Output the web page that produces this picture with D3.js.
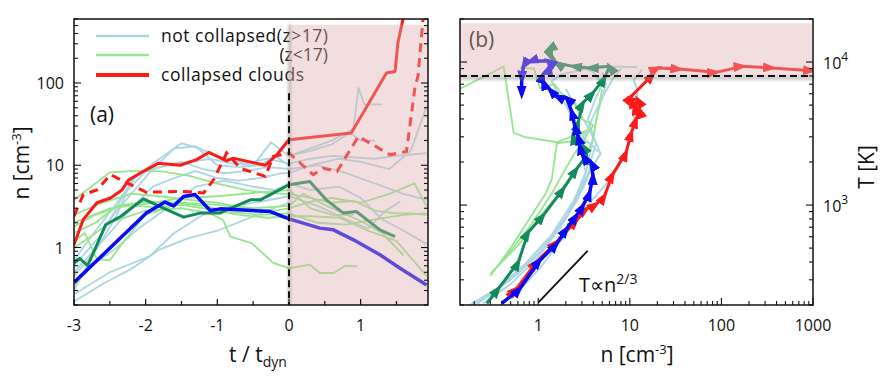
<!DOCTYPE html>
<html><head><meta charset="utf-8">
<script src="https://cdn.jsdelivr.net/npm/d3@7"></script>
<style>body{margin:0;background:#fff}svg{display:block}text{font-family:"Open Sans","Liberation Sans",Arial,sans-serif;fill:#111}</style>
</head><body><svg id="c" width="884" height="376"></svg>
<script>
// ---------- DATA: panel (a) n vs t/t_dyn ----------
const redSolidT = [-3,-2.87,-2.68,-2.49,-2.33,-2.24,-2.08,-1.82,-1.52,-1.29,-1.12,-0.87,-0.78,-0.33,-0.17,0,0.87,1.36,1.48,1.52,1.6];
const redSolidN = [1.08,2.2,3.5,4.0,5.0,6.6,8.0,10.6,10,11.7,14.3,11.3,12.2,10,13.4,20.4,24.6,132,138,306,650];
const redDashT = [-3,-2.87,-2.68,-2.49,-2.26,-1.99,-1.47,-1.19,-1.05,-0.87,-0.68,-0.33,-0.22,0,0.34,0.48,0.67,0.97,1.41,1.64,1.76,1.8,1.87];
const redDashN = [2.4,4.4,5.0,7.7,6.1,4.7,4.8,4.6,6.7,14.1,9.2,7.3,12.8,14.1,7.7,9.2,8.4,22.4,13.4,14.7,91,120,590];
const blueT = [-3,-1.99,-1.73,-1.61,-1.47,-1.31,-1.10,-0.96,-0.26,0,0.43,0.62,0.9,1.27,1.55,1.92];
const blueN = [0.375,2.62,3.57,3.2,4.17,4.4,2.82,2.95,2.74,2.23,1.72,1.64,1.24,0.815,0.56,0.35];
const dgreenT = [-3,-2.92,-2.81,-2.68,-2.56,-2.35,-2.03,-1.8,-1.47,-1.24,-0.96,-0.82,-0.54,-0.4,0,0.29,0.52,0.76,0.94,1.27,1.48];
const dgreenN = [0.65,0.74,0.6,1.08,1.89,2.38,3.9,3.15,2.34,2.62,2.62,3.0,3.8,3.8,5.8,6.35,3.8,2.62,2.74,1.64,1.36];
// light blue (not collapsed, z>17)
const lbA_T = [
 [-3,-2.6,-2.2,-1.8,-1.4,-1.0,-0.6,-0.3,0],
 [-3,-2.5,-1.95,-1.6,-1.2,-0.8,-0.4,0,0.4,0.8,1.1,1.35,1.55],
 [-3,-2.7,-2.4,-2.2,-1.9,-1.5,-1.25,-1.0,-0.6,-0.3,0,0.3,0.6,0.9,1.2,1.5,1.92],
 [-3,-2.6,-2.3,-2.0,-1.7,-1.4,-1.1,-0.8,-0.5,-0.25,0,0.3,0.6,0.9,0.97,1.05,1.3],
 [-3,-2.7,-2.4,-2.1,-1.8,-1.5,-1.2,-0.9,-0.6,-0.3,0,0.4,0.8,1.2,1.6,1.92],
 [-3,-2.7,-2.4,-2.1,-1.7,-1.3,-0.9,-0.5,-0.2,0,0.3,0.7,1.0,1.3,1.6,1.92],
 [-3,-2.6,-2.2,-1.9,-1.6,-1.3,-1.0,-0.7,-0.4,-0.1,0,0.3,0.7,1.0,1.4,1.7,1.92],
 [0,0.3,0.6,0.85,1.0,1.2],
 [-3,-2.75,-2.5,-2.2,-1.9,-1.6,-1.3,-1.0,-0.7,-0.4,-0.2,0]
];
const lbA_N = [
 [0.22,0.36,0.55,0.95,1.3,1.6,2.2,2.8,3.5],
 [0.27,0.5,0.78,1.5,2.5,3.2,3.6,4.2,3.2,2.2,1.7,2.8,3.6],
 [0.45,0.9,2.5,6.5,10.5,18.5,16,13,10.5,12,10.5,12,13,12.5,12,13,14],
 [0.6,1.5,4.5,8.5,10,11,12,10.5,10,19,13,16,20,28,88,55,55],
 [0.7,1.6,3.5,8,9.5,11,9,8,8.5,9.5,9,10,8,6,4.5,3.8],
 [0.35,0.65,1.0,1.7,3.0,5.5,6.5,5.5,5,6,5,5.5,4,2.2,1.6,1.1],
 [0.5,1.2,3,5.5,7,8.5,7,6.5,7,8,8,10,12,11,9,15,52],
 [13,15,18,25,20,20],
 [0.3,0.8,2.2,4.5,9,16,17,10,9.5,10,13,10]
];
// light green (not collapsed, z<17)
const lgA_T = [
 [-3,-2.5,-2.2,-1.8,-1.4,-1.0,-0.6,-0.3,0,0.3,0.6,0.9,1.2,1.5,1.7,1.92],
 [-3,-2.8,-2.5,-2.0,-1.5,-1.1,-0.92,-0.82,-0.52,-0.22,0,0.29,0.43,0.62,0.79,0.95],
 [-3,-2.85,-2.68,-2.5,-2.3,-2.0,-1.5,-1.0,-0.5,0,0.2,0.5,0.8,1.0,1.3,1.6],
 [-3,-2.6,-2.2,-1.8,-1.4,-1,-0.6,-0.2,0,0.3,0.6,1.0,1.4,1.75,1.92],
 [-3,-2.7,-2.4,-2.0,-1.6,-1.2,-0.8,-0.4,0,0.4,0.8,1.2,1.6,1.92],
 [-3,-2.7,-2.3,-1.9,-1.5,-1.1,-0.7,-0.3,0,0.3,0.7,1.1,1.5,1.92],
 [-3,-2.5,-2,-1.5,-1.0,-0.5,0,0.3,0.6,0.9]
];
const lgA_N = [
 [3.8,8.2,8.5,8.5,7.5,6,5,4.6,4.5,4.0,3.5,3.7,2.8,2.6,2.6,2.5],
 [1.0,1.3,2.0,2.8,3.0,2.6,2.17,1.36,1.13,0.65,0.56,0.62,0.49,0.49,0.6,0.59],
 [1.2,1.5,0.72,0.7,1.2,2.5,3.5,3.3,3.0,3.2,4.5,3.3,2.5,2.1,1.5,0.8],
 [2.5,3.5,4.5,4.2,3.8,3.5,3.0,2.8,3.0,3.6,4.0,3.5,4.5,6.0,3.2],
 [1.5,2.0,3.2,3.6,3.5,3.2,2.7,2.5,2.6,2.0,1.9,2.2,2.5,2.6],
 [1.8,2.5,3.3,3.1,3.3,2.9,2.5,2.3,2.4,2.4,2.3,1.6,1.2,0.45],
 [2.0,3.0,3.4,4.0,4.2,4.6,5.0,3.0,2.5,2.5]
];
const xTicksA = [-3,-2,-1,0,1];
const yTicksA = [1,10,100];

// ---------- DATA: panel (b) T vs n ----------
const redBN = [0.45,0.58,0.96,1.58,2.6,3.36,4.3,5.3,6.5,9.1,10.4,11.7,12.7,11.2,12.2,9.9,10.4,17.8,20.2,34.7,87,170,357,977];
const redBT = [234,260,400,550,777,938,1016,1160,1643,2327,3207,3966,4656,4909,5467,5467,5767,8170,9085,8930,8470,9330,9085,8690];
const blueBN = [0.4,0.63,1.04,1.58,2.04,2.61,3.08,3.65,3.96,3.8,3.08,2.84,2.72,2.51,2.31,2.04,1.58,1.34,1.13,1.13,1.34,1.28,0.81,0.69,0.66,0.66];
const blueBT = [205,260,410,535,681,843,989,1225,1600,1983,2204,2588,3037,3563,4531,5604,5767,6415,7330,8166,9330,10200,10090,9330,7530,5920];
const dgreenBN = [0.275,0.367,0.607,0.778,1.13,1.87,2.61,3.36,3.08,2.61,2.4,2.72,3.08,3.96,5.3,6.0,3.65,2.4,1.58,1.28,1.4];
const dgreenBT = [205,260,399,646,843,1292,1780,2204,2588,2878,3037,3756,5188,6080,7745,9330,9085,9330,9840,12200,10660];
const lbB_N = [
 [0.2,0.5,1.0,2.0,3.0,3.5,4.0,4.5,5.5,5.0],
 [0.22,0.6,1.2,2.2,3.2,4.8,4.0,3.5,4.2,5.0,4.0,3.0],
 [0.5,1.0,2.0,3.0,5.0,7.0,9.0,10.5,11,12,12,11,13,13.5],
 [0.18,0.35,0.7,1.4,2.5,3.3,3.0,2.8,3.5,4.0,5.0,6.5,8],
 [0.25,0.5,1.0,1.8,2.5,4.8,3.2,2.5,2.0,1.6,1.4,1.8,3,5,8,12],
 [0.3,0.7,1.5,2.6,3.4,3.8,4.3,3.5,2.5,2.0]
];
const lbB_T = [
 [200,300,450,800,1300,2000,3000,4500,7000,8500],
 [205,330,520,900,1500,2300,3000,4000,5500,7000,8500,9200],
 [220,350,620,900,1300,1700,2300,3000,4000,5000,6500,7500,8500,8900],
 [200,260,380,620,1100,1700,2200,2700,3400,4200,5600,7600,9000],
 [205,280,430,720,1100,2300,2900,3800,5000,6200,7400,8200,8800,9300,9300,9200],
 [230,380,640,1050,1500,2100,2700,3500,5000,6500]
];
const lgB_N = [
 [0.14,0.42,0.54,0.7,1.6,3.3,2.4,1.6,1.4,1.2,0.8,0.5,0.3],
 [0.63,0.9,1.04,1.5,1.8,2.5,3.0,4.0,3.5,3.0,2.5,2.0,1.4,0.8,0.4],
 [0.3,0.6,1.0,1.6,2.3,3.0,3.6,4.0,4.5,5.0]
];
const lgB_T = [
 [6500,9300,3200,3000,2750,3300,2800,2700,1500,1200,800,500,320],
 [9100,9000,6600,7000,6000,5200,4000,3600,3200,2700,2300,1800,1200,700,400],
 [330,520,800,1150,1600,2000,2400,3000,4600,6500]
];
const refLineN = [1, 3.47];
const refLineT = [208, 479];
const xTicksB = [1,10,100,1000];
const yTicksB = [1000,10000];
const legendLabels = ["not collapsed(z>17)","(z<17)","collapsed clouds"];

// ---------- COLORS ----------
const C = {red:"#ff1a1a", blue:"#0a0af5", dgreen:"#138a5c", lblue:"#acd6e4", lgreen:"#96e68e",
           shade:"rgba(222,172,172,0.40)"};

const svg = d3.select("#c");
const defs = svg.append("defs");
defs.append("filter").attr("id","blur").attr("x","-50%").attr("y","-50%").attr("width","200%").attr("height","200%")
  .append("feGaussianBlur").attr("stdDeviation",1.5);

function zip(a,b){return a.map((v,i)=>[v,b[i]]);}
function logMinor(lo,hi){const out=[];for(let e=Math.floor(Math.log10(lo));e<=Math.ceil(Math.log10(hi));e++){for(let m=1;m<10;m++){const v=m*Math.pow(10,e);if(v>=lo&&v<=hi)out.push({v,major:m===1});}}return out;}

// ============ PANEL A ============
const A = {l:74,r:428,t:19,b:305};
const xA = d3.scaleLinear().domain([-3,1.94]).range([A.l,A.r]);
const yA = d3.scaleLog().domain([0.2,600]).range([A.b,A.t]);
const gA = svg.append("g");
defs.append("clipPath").attr("id","clipA").append("rect").attr("x",A.l).attr("y",A.t).attr("width",A.r-A.l).attr("height",A.b-A.t);
const linesA = gA.append("g").attr("clip-path","url(#clipA)");
const lineA = d3.line().x(d=>xA(d[0])).y(d=>yA(d[1]));
lbA_T.forEach((t,i)=>linesA.append("path").attr("d",lineA(zip(t,lbA_N[i]))).attr("fill","none").attr("stroke",C.lblue).attr("stroke-width",1.8));
lgA_T.forEach((t,i)=>linesA.append("path").attr("d",lineA(zip(t,lgA_N[i]))).attr("fill","none").attr("stroke",C.lgreen).attr("stroke-width",1.8));
linesA.append("path").attr("d",lineA(zip(dgreenT,dgreenN))).attr("fill","none").attr("stroke",C.dgreen).attr("stroke-width",3).attr("stroke-linejoin","round");
linesA.append("path").attr("d",lineA(zip(blueT,blueN))).attr("fill","none").attr("stroke",C.blue).attr("stroke-width",3.5).attr("stroke-linejoin","round");
linesA.append("path").attr("d",lineA(zip(redDashT,redDashN))).attr("fill","none").attr("stroke",C.red).attr("stroke-width",3).attr("stroke-dasharray","9,6");
linesA.append("path").attr("d",lineA(zip(redSolidT,redSolidN))).attr("fill","none").attr("stroke",C.red).attr("stroke-width",3).attr("stroke-linejoin","round");

// legend
const leg = gA.append("g");
const legColors=[C.lblue,C.lgreen,C.red], legW=[2.5,2.5,4], legY=[36,55,75];
legColors.forEach((c,i)=>leg.append("line").attr("x1",96).attr("x2",149).attr("y1",legY[i]).attr("y2",legY[i]).attr("stroke",c).attr("stroke-width",legW[i]));
leg.append("text").attr("x",161).attr("y",42).attr("font-size",17.5).attr("textLength",167).attr("lengthAdjust","spacing").text(legendLabels[0]);
leg.append("text").attr("x",328).attr("y",61).attr("font-size",17.5).attr("text-anchor","end").text(legendLabels[1]);
leg.append("text").attr("x",161).attr("y",81).attr("font-size",17.5).attr("textLength",143).attr("lengthAdjust","spacing").text(legendLabels[2]);
gA.append("text").attr("x",90).attr("y",122).attr("font-size",21).text("(a)");

// shade overlay
gA.append("rect").attr("x",xA(0)-1).attr("y",24.7).attr("width",3).attr("height",A.b-24.7).attr("fill","rgba(130,130,130,0.5)").attr("filter","url(#blur)");
gA.append("rect").attr("x",xA(0)).attr("y",24.7).attr("width",A.r-xA(0)).attr("height",A.b-24.7).attr("fill",C.shade);
// vertical dashed line at t=0
gA.append("line").attr("x1",xA(0)).attr("x2",xA(0)).attr("y1",yA(75)).attr("y2",A.b).attr("stroke","#111").attr("stroke-width",2).attr("stroke-dasharray","7,4");

// axes panel A
const axA = gA.append("g").attr("stroke","#111");
axA.append("rect").attr("x",A.l).attr("y",A.t).attr("width",A.r-A.l).attr("height",A.b-A.t).attr("fill","none").attr("stroke-width",1.5);
d3.range(-3,1.95,0.5).forEach(v=>{const maj=Number.isInteger(v);axA.append("line").attr("x1",xA(v)).attr("x2",xA(v)).attr("y1",A.b).attr("y2",A.b-(maj?6:4)).attr("stroke-width",1.2);});
logMinor(0.2,600).forEach(o=>{const y=yA(o.v),L=o.major?7:4;
  axA.append("line").attr("x1",A.l).attr("x2",A.l+L).attr("y1",y).attr("y2",y).attr("stroke-width",1.1);
  axA.append("line").attr("x1",A.r).attr("x2",A.r-L).attr("y1",y).attr("y2",y).attr("stroke-width",1.1);});
xTicksA.forEach(v=>gA.append("text").attr("x",xA(v)).attr("y",331).attr("font-size",16).attr("text-anchor","middle").text(v));
yTicksA.forEach(v=>gA.append("text").attr("x",64).attr("y",yA(v)+6).attr("font-size",16).attr("text-anchor","end").text(v));
// axis labels
const ylA = gA.append("text").attr("transform","translate(29,163) rotate(-90)").attr("text-anchor","middle").attr("font-size",21);
ylA.append("tspan").text("n [cm");ylA.append("tspan").attr("dy",-8).attr("font-size",13).text("-3");ylA.append("tspan").attr("dy",8).text("]");
const xlA = gA.append("text").attr("x",258).attr("y",362).attr("text-anchor","middle").attr("font-size",21);
xlA.append("tspan").text("t / t");xlA.append("tspan").attr("dy",5).attr("font-size",14).text("dyn");

// ============ PANEL B ============
const B = {l:460,r:813,t:19,b:305};
const xB = d3.scaleLog().domain([0.14,1000]).range([B.l,B.r]);
const yB = d3.scaleLog().domain([200,20000]).range([B.b,B.t]);
const gB = svg.append("g");
defs.append("clipPath").attr("id","clipB").append("rect").attr("x",B.l).attr("y",B.t).attr("width",B.r-B.l).attr("height",B.b-B.t);
const linesB = gB.append("g").attr("clip-path","url(#clipB)");
const lineB = d3.line().x(d=>xB(d[0])).y(d=>yB(d[1]));
function mk(id,color){defs.append("marker").attr("id",id).attr("viewBox","-7 -5 14 10").attr("refX",2).attr("refY",0)
  .attr("markerWidth",14).attr("markerHeight",10).attr("markerUnits","userSpaceOnUse").attr("orient","auto")
  .append("path").attr("d","M-7,-5L7,0L-7,5Z").attr("fill",color);}
mk("mRed",C.red);mk("mBlue",C.blue);mk("mGreen",C.dgreen);
lbB_N.forEach((n,i)=>linesB.append("path").attr("d",lineB(zip(n,lbB_T[i]))).attr("fill","none").attr("stroke",C.lblue).attr("stroke-width",1.8));
lgB_N.forEach((n,i)=>linesB.append("path").attr("d",lineB(zip(n,lgB_T[i]))).attr("fill","none").attr("stroke",C.lgreen).attr("stroke-width",1.8));
function traj(n,T,color,mid,w){linesB.append("path").attr("d",lineB(zip(n,T))).attr("fill","none").attr("stroke",color).attr("stroke-width",w)
  .attr("stroke-linejoin","round").attr("marker-mid",`url(#${mid})`).attr("marker-end",`url(#${mid})`);}
traj(dgreenBN,dgreenBT,C.dgreen,"mGreen",3);
traj(redBN,redBT,C.red,"mRed",3);
traj(blueBN,blueBT,C.blue,"mBlue",3.5);
// reference slope line
gB.append("path").attr("d",lineB(zip(refLineN,refLineT))).attr("stroke","#111").attr("stroke-width",1.8).attr("fill","none");
const rt = gB.append("text").attr("x",579).attr("y",292).attr("font-size",20);
rt.append("tspan").text("T\u221Dn");rt.append("tspan").attr("dy",-8).attr("font-size",14).text("2/3");
gB.append("text").attr("x",469).attr("y",47).attr("font-size",21).text("(b)");
// shade above T=8000
const yS = yB(8000);
gB.append("rect").attr("x",B.l).attr("y",yS).attr("width",B.r-B.l).attr("height",4).attr("fill","rgba(130,130,130,0.45)").attr("filter","url(#blur)");
gB.append("rect").attr("x",B.l+0.5).attr("y",23.3).attr("width",B.r-B.l-1).attr("height",yS-23.3).attr("fill",C.shade);
gB.append("line").attr("x1",B.l).attr("x2",B.r).attr("y1",yS).attr("y2",yS).attr("stroke","#111").attr("stroke-width",2).attr("stroke-dasharray","7,4");

const axB = gB.append("g").attr("stroke","#111");
axB.append("rect").attr("x",B.l).attr("y",B.t).attr("width",B.r-B.l).attr("height",B.b-B.t).attr("fill","none").attr("stroke-width",1.5);
logMinor(0.14,1000).forEach(o=>{const x=xB(o.v),L=o.major?7:4;axB.append("line").attr("x1",x).attr("x2",x).attr("y1",B.b).attr("y2",B.b-L).attr("stroke-width",1.1);});
logMinor(200,20000).forEach(o=>{const y=yB(o.v),L=o.major?7:4;
  axB.append("line").attr("x1",B.l).attr("x2",B.l+L).attr("y1",y).attr("y2",y).attr("stroke-width",1.1);
  axB.append("line").attr("x1",B.r).attr("x2",B.r-L).attr("y1",y).attr("y2",y).attr("stroke-width",1.1);});
xTicksB.forEach(v=>gB.append("text").attr("x",xB(v)).attr("y",331).attr("font-size",16).attr("text-anchor","middle").text(v));
yTicksB.forEach(v=>{const t=gB.append("text").attr("x",823).attr("y",yB(v)+7).attr("font-size",16);
  t.append("tspan").text("10");t.append("tspan").attr("dy",-8).attr("font-size",12).text(Math.round(Math.log10(v)));});
const xlB = gB.append("text").attr("x",637).attr("y",362).attr("text-anchor","middle").attr("font-size",21);
xlB.append("tspan").text("n [cm");xlB.append("tspan").attr("dy",-8).attr("font-size",13).text("-3");xlB.append("tspan").attr("dy",8).text("]");
gB.append("text").attr("transform","translate(874,167) rotate(-90)").attr("text-anchor","middle").attr("font-size",21).text("T [K]");
</script></body></html>
